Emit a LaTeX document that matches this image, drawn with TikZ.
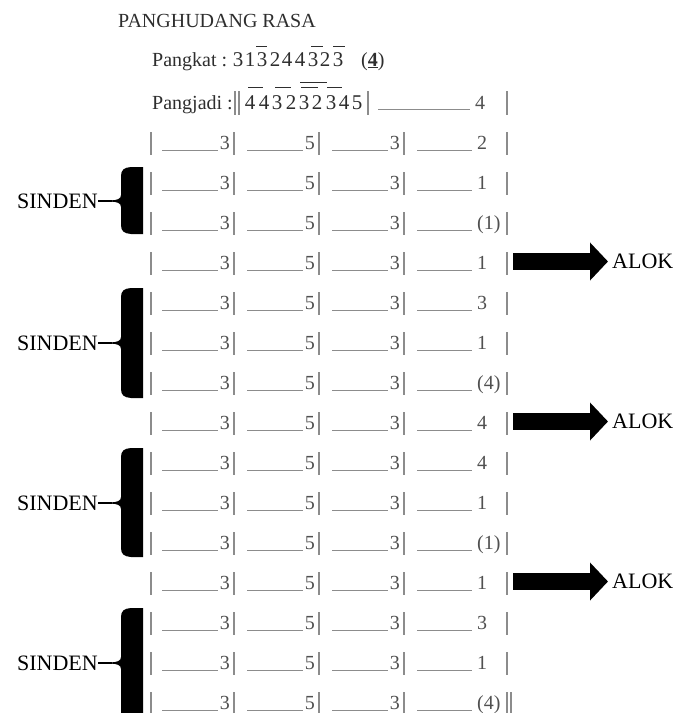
\documentclass[tikz,border=0pt]{standalone}
\usepackage{fontspec}
\setmainfont{Liberation Serif}
\usetikzlibrary{arrows.meta}

\definecolor{inkgray}{HTML}{2E2E2E}
\definecolor{cellgray}{HTML}{505050}
\definecolor{ruleray}{HTML}{8C8C8C}

\tikzset{
	barline/.style={draw=ruleray, line width=1.2pt},
	blank/.style={draw=ruleray, line width=1pt},
	cell/.style={text=cellgray, font=\fontsize{20}{20}\selectfont, inner sep=0pt},
	headtext/.style={text=inkgray, font=\fontsize{20}{20}\selectfont, inner sep=0pt},
	headdigit/.style={text=inkgray, font=\fontsize{21}{21}\selectfont, inner sep=0pt, anchor=base},
	sindenlabel/.style={font=\fontsize{22}{22}\selectfont, inner sep=0pt, anchor=east},
	aloklabel/.style={font=\fontsize{22}{22}\selectfont, inner sep=0pt, anchor=west},
	alokarrow/.style={line width=17pt, shorten >=4pt, -{Triangle[length=18pt,width=37pt]}},
	overbar/.style={draw=inkgray, line width=1pt},
}

\begin{document}
\begin{tikzpicture}[x=1pt,y=-1pt]
	\useasboundingbox (0,0) rectangle (676,713);
	\node[headtext,anchor=base west] (title) at (118,27) {PANGHUDANG RASA};

	\node[headtext,anchor=base west] (pangkat) at (152,66) {Pangkat :};
	\foreach \d/\x [count=\k] in {3/238,1/250,3/262,2/275,4/287,4/300,3/313,2/325,3/338}
		\node[headdigit] (k\k) at (\x,66) {\d};
	\node[headtext,anchor=base west] (gong) at (361,66) {(\underline{\textbf{4}})};
	\draw[overbar] (256,46)--(267,46);
	\draw[overbar] (311,46)--(323,46);
	\draw[overbar] (333,46)--(345,46);

	\node[headtext,anchor=base west] (pangjadi) at (152,109) {Pangjadi :};
	\draw[barline] (235,91)--(235,115);
	\draw[barline] (239,91)--(239,115);
	\foreach \d/\x [count=\k] in {4/250,4/264,3/277,2/291,3/304,2/317,3/331,4/344,5/357}
		\node[headdigit] (j\k) at (\x,109) {\d};
	\draw[overbar] (248,87)--(263,87);
	\draw[overbar] (275,87)--(291,87);
	\draw[overbar] (301,87)--(318,87);
	\draw[overbar] (327,87)--(342,87);
	\draw[overbar] (300,82)--(327,82);
	\draw[barline] (368,91)--(368,115);
	\draw[blank] (378,109.5)--(470,109.5);
	\node[cell,anchor=base west] (jend) at (475,109) {4};
	\draw[barline] (507,91)--(507,115);

	\foreach \v [count=\i] in {2,1,(1),1,3,1,(4),4,4,1,(1),1,3,1,(4)} {
		\pgfmathsetmacro{\yc}{143+40*(\i-1)}
		\draw[barline] (151,\yc-11)--(151,\yc+12);
		\draw[blank] (162,\yc+7)--(218,\yc+7);
		\node[cell,anchor=base east] (r\i-a) at (230,\yc+6.5) {3};
		\draw[barline] (234,\yc-11)--(234,\yc+12);
		\draw[blank] (247,\yc+7)--(303,\yc+7);
		\node[cell,anchor=base east] (r\i-b) at (315,\yc+6.5) {5};
		\draw[barline] (319,\yc-11)--(319,\yc+12);
		\draw[blank] (332,\yc+7)--(388,\yc+7);
		\node[cell,anchor=base east] (r\i-c) at (400,\yc+6.5) {3};
		\draw[barline] (404,\yc-11)--(404,\yc+12);
		\draw[blank] (417,\yc+7)--(472,\yc+7);
		\node[cell,anchor=base west] (r\i-d) at (477,\yc+6.5) {\v};
		\draw[barline] (507,\yc-11)--(507,\yc+12);
	}
	\draw[barline] (511,692)--(511,715);

	\foreach \i in {4,8,12} {
		\pgfmathsetmacro{\yc}{143+40*(\i-1)}
		\coordinate (s\i) at (513,\yc-1.5);
		\node[aloklabel] (alok\i) at (612,\yc-1.5) {ALOK};
		\draw[alokarrow] (s\i)--(alok\i.west);
	}

	\foreach \t/\b/\m in {167/234/201,288/398/343,448/557/503,608/725/663} {
		\fill (143,\t)--(131,\t) .. controls (124,\t+0.5) and (121,\t+3) .. (121,\t+9)
			--(121,\m-6) .. controls (121,\m-2) and (117,\m-0.8) .. (111,\m-0.6)
			--(111,\m+0.6) .. controls (117,\m+0.8) and (121,\m+2) .. (121,\m+6)
			--(121,\b-9) .. controls (121,\b-3) and (124,\b-0.5) .. (131,\b)
			--(143,\b)--cycle;
		\coordinate (tip\m) at (112,\m);
		\node[sindenlabel] (sinden\m) at (98,\m) {SINDEN};
		\draw[line width=1.4pt] (sinden\m.east)--(tip\m);
	}
\end{tikzpicture}
\end{document}
